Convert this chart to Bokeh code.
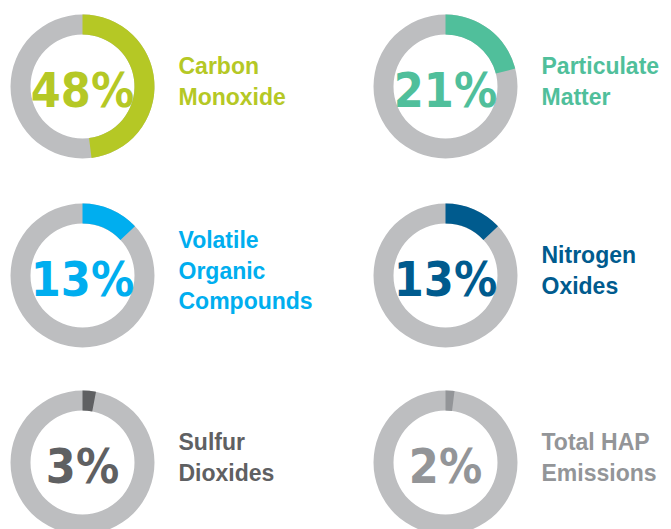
import math
from bokeh.plotting import figure
from bokeh.models import Range1d
from bokeh.core.properties import value
from bokeh.embed import file_html
from bokeh.resources import INLINE

# ---- data ----
labels = ["Carbon\nMonoxide", "Particulate\nMatter", "Volatile\nOrganic\nCompounds",
          "Nitrogen\nOxides", "Sulfur\nDioxides", "Total HAP\nEmissions"]
percents = [48, 21, 13, 13, 3, 2]
colors = ["#B5C825", "#50BF9B", "#00AEEF", "#005B8E", "#5F6062", "#939598"]
ring_color = "#BDBEC0"

W, H = 671, 529
p = figure(width=W, height=H, output_backend="svg", toolbar_location=None,
           x_range=Range1d(0, W), y_range=Range1d(0, H), min_border=0)
p.axis.visible = False
p.grid.visible = False
p.outline_line_color = None
p.background_fill_color = "white"
p.border_fill_color = "white"

col_x = [82, 445]       # donut centre x (px)
row_y = [86, 275, 462]  # donut centre y from top (px)
label_dx = 96
R_OUT, R_IN = 72, 52

def fy(y_from_top):
    return H - y_from_top

for i, (lab, pct, c) in enumerate(zip(labels, percents, colors)):
    cx = col_x[i % 2]
    cy = row_y[i // 2]
    p.annulus(x=[cx], y=[fy(cy)], inner_radius=R_IN, outer_radius=R_OUT,
              fill_color=ring_color, line_color=None)
    frac = pct / 100.0
    p.annular_wedge(x=[cx], y=[fy(cy)], inner_radius=R_IN, outer_radius=R_OUT,
                    start_angle=math.pi / 2 - frac * 2 * math.pi, end_angle=math.pi / 2,
                    fill_color=c, line_color=None)
    p.text(x=[cx], y=[fy(cy + 3)], text=[f"{pct}%"],
           text_font=value("DejaVu Sans Condensed"), text_font_style="bold",
           text_font_size="48px", text_color=c,
           text_align="center", text_baseline="middle")
    lines = lab.split("\n")
    n = len(lines)
    for k, ln in enumerate(lines):
        by = cy - 5 + (k - (n - 1) / 2) * 30.5
        p.text(x=[cx + label_dx], y=[fy(by)], text=[ln],
               text_font=value("Liberation Sans"), text_font_style="bold",
               text_font_size="23px", text_color=c,
               text_align="left", text_baseline="alphabetic")

open("out.html", "w").write(file_html(p, INLINE))
